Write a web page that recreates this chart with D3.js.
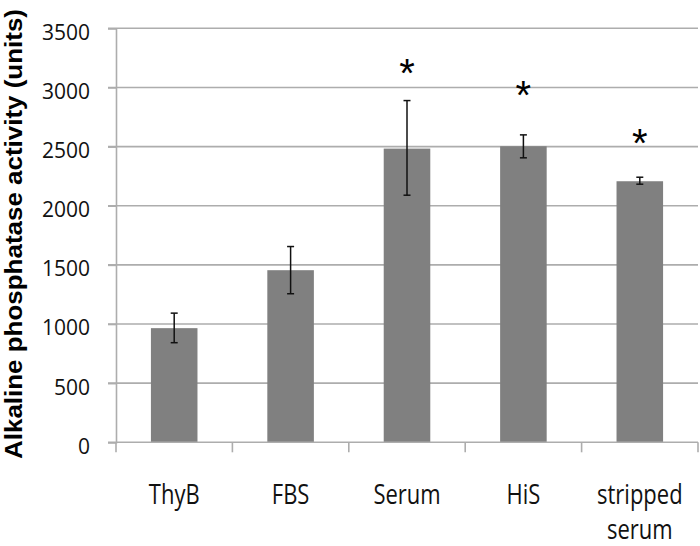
<!DOCTYPE html>
<html>
<head>
<meta charset="utf-8">
<script src="https://cdn.jsdelivr.net/npm/d3@7"></script>
<style>
  body { margin: 0; background: #fff; }
  svg { display: block; }
</style>
</head>
<body>
<div id="chart"></div>
<script>
// values
const categories = ['ThyB', 'FBS', 'Serum', 'HiS', 'stripped serum'];
const means = [965, 1455, 2483, 2503, 2207];
const errLow = [842, 1256, 2089, 2405, 2182];
const errHigh = [1092, 1655, 2889, 2599, 2241];
// asterisk centres (in data units), null where there is none
const starAt = [null, null, 3198, 3016, 2604];
const yTicks = [0, 500, 1000, 1500, 2000, 2500, 3000, 3500];

const width = 700, height = 546;
const margin = {top: 28.3, right: 2, bottom: 103.7, left: 116};
const grey = '#adadad';

const svg = d3.select('#chart').append('svg')
  .attr('width', width)
  .attr('height', height);

const x = d3.scaleBand()
  .domain(categories)
  .range([margin.left, width - margin.right])
  .paddingInner(0.6)
  .paddingOuter(0.3);

const y = d3.scaleLinear()
  .domain([0, 3500])
  .range([height - margin.bottom, margin.top]);

// gridlines
svg.append('g')
  .selectAll('line')
  .data(yTicks.slice(1))
  .enter().append('line')
  .attr('x1', margin.left - 8)
  .attr('x2', width - margin.right)
  .attr('y1', d => y(d))
  .attr('y2', d => y(d))
  .attr('stroke', grey)
  .attr('stroke-width', 1.6);

// y axis
const yAxis = svg.append('g')
  .attr('transform', `translate(${margin.left},0)`)
  .call(d3.axisLeft(y).tickValues(yTicks).tickFormat(d3.format('d')).tickSize(8).tickPadding(18));
yAxis.select('.domain').attr('stroke', grey).attr('stroke-width', 1.6);
yAxis.selectAll('.tick line').attr('stroke', grey).attr('stroke-width', 1.6);
yAxis.selectAll('.tick text')
  .attr('font-family', '"Open Sans", sans-serif')
  .attr('font-size', 21)
  .attr('dy', '0.52em')
  .attr('fill', '#111');

// bars
svg.append('g')
  .selectAll('rect')
  .data(categories)
  .enter().append('rect')
  .attr('x', d => x(d))
  .attr('width', x.bandwidth())
  .attr('y', (d, i) => y(means[i]))
  .attr('height', (d, i) => y(0) - y(means[i]))
  .attr('fill', '#808080');

// x axis
const step = x.step();
const x0 = margin.left;
const xAxis = svg.append('g')
  .attr('transform', `translate(0,${y(0)})`);
xAxis.append('line')
  .attr('x1', margin.left - 8)
  .attr('x2', width - margin.right)
  .attr('stroke', grey)
  .attr('stroke-width', 1.6);
xAxis.selectAll('.xt')
  .data(d3.range(categories.length + 1))
  .enter().append('line')
  .attr('class', 'xt')
  .attr('x1', i => x0 + i * step)
  .attr('x2', i => x0 + i * step)
  .attr('y1', 0)
  .attr('y2', 10)
  .attr('stroke', grey)
  .attr('stroke-width', 1.6);

// category labels, a bit taller than wide like the original
const labels = xAxis.selectAll('.xl')
  .data(categories)
  .enter().append('g')
  .attr('class', 'xl')
  .attr('transform', d => `translate(${x(d) + x.bandwidth() / 2},${62})`);
labels.each(function(d) {
  const g = d3.select(this);
  d.split(' ').forEach((w, k) => {
    g.append('text')
      .attr('text-anchor', 'middle')
      .attr('font-family', '"Open Sans", sans-serif')
      .attr('font-size', 22)
      .attr('fill', '#111')
      .attr('transform', `translate(0,${k * 35}) scale(1,1.2)`)
      .text(w);
  });
});

// error bars
const err = svg.append('g')
  .attr('stroke', '#111')
  .attr('stroke-width', 1.5);
categories.forEach((c, i) => {
  const cx = x(c) + x.bandwidth() / 2;
  err.append('line').attr('x1', cx).attr('x2', cx)
    .attr('y1', y(errLow[i])).attr('y2', y(errHigh[i]));
  err.append('line').attr('x1', cx - 3.5).attr('x2', cx + 3.5)
    .attr('y1', y(errLow[i])).attr('y2', y(errLow[i]));
  err.append('line').attr('x1', cx - 3.5).attr('x2', cx + 3.5)
    .attr('y1', y(errHigh[i])).attr('y2', y(errHigh[i]));
});

// significance asterisks
svg.append('g')
  .selectAll('text')
  .data(categories.filter((c, i) => starAt[i] !== null))
  .enter().append('text')
  .attr('text-anchor', 'middle')
  .attr('font-family', '"Liberation Sans", Arial, sans-serif')
  .attr('font-size', 40)
  .attr('fill', '#000')
  .attr('x', d => x(d) + x.bandwidth() / 2)
  .attr('y', d => y(starAt[categories.indexOf(d)]) + 23)
  .text('*');

// y axis title
svg.append('text')
  .attr('transform', 'translate(22,234) rotate(-90)')
  .attr('text-anchor', 'middle')
  .attr('font-family', '"Liberation Sans", Arial, sans-serif')
  .attr('font-weight', 'bold')
  .attr('font-size', 23)
  .attr('textLength', 450)
  .attr('lengthAdjust', 'spacingAndGlyphs')
  .attr('fill', '#000')
  .text('Alkaline phosphatase activity (units)');
</script>
</body>
</html>
